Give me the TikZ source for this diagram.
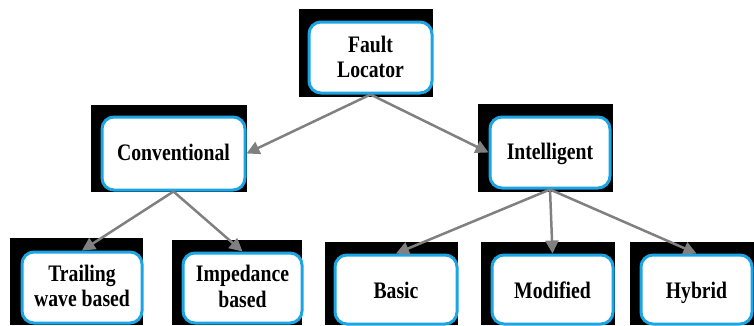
\documentclass[tikz,border=0pt]{standalone}
\usepackage{graphicx}
\usepackage{fontspec}
\setmainfont{Liberation Serif}
\usetikzlibrary{arrows.meta}
\definecolor{boxblue}{RGB}{28,165,228}
\definecolor{arrowgray}{RGB}{128,128,128}
\newcommand\boxtext[2][2pt]{\raisebox{-#1}[\height][\depth]{\scalebox{1}[1.2]{\fontsize{19.7}{21}\selectfont\bfseries\begin{tabular}{@{}c@{}}#2\end{tabular}}}}
\tikzset{
  shadowbox/.style={fill=black, draw=none, inner sep=0pt},
  mainbox/.style={draw=boxblue, line width=3pt, fill=white, rounded corners=12pt, inner sep=0pt, align=center},
  link/.style={draw=arrowgray, line width=2.5pt, -{Triangle[length=13pt,width=13pt]}}
}
\begin{document}
\begin{tikzpicture}[x=1pt,y=-1pt]
\useasboundingbox (0,0) rectangle (754,325);
% black backing rectangles
\path[shadowbox] (299,9) rectangle (433,97);
\path[shadowbox] (91,105) rectangle (247,192);
\path[shadowbox] (478,104) rectangle (613,192);
\path[shadowbox] (10,238) rectangle (143,325);
\path[shadowbox] (172,240) rectangle (302,325);
\path[shadowbox] (325,242) rectangle (458,325);
\path[shadowbox] (481,242) rectangle (615,325);
\path[shadowbox] (630,242) rectangle (754,325);
% boxes
\node[mainbox, minimum width=123pt, minimum height=71pt] (fl) at (370.5,57.5) {\boxtext[2.5pt]{Fault\\Locator}};
\node[mainbox, minimum width=143pt, minimum height=73pt] (conv) at (173.5,153.5) {\boxtext{Conventional}};
\node[mainbox, minimum width=120pt, minimum height=71pt] (intel) at (550,152.5) {\boxtext{Intelligent}};
\node[mainbox, minimum width=120pt, minimum height=71pt] (trail) at (82,287.5) {\boxtext[1.5pt]{Trailing\\wave based}};
\node[mainbox, minimum width=119pt, minimum height=70pt] (imp) at (242.5,288) {\boxtext[1.5pt]{Impedance\\based}};
\node[mainbox, minimum width=122pt, minimum height=69pt] (basic) at (396,289.5) {\boxtext[4pt]{Basic}};
\node[mainbox, minimum width=121pt, minimum height=69pt] (mod) at (552.5,289.5) {\boxtext[4pt]{Modified}};
\node[mainbox, minimum width=111pt, minimum height=69pt] (hyb) at (696.5,289.5) {\boxtext[4pt]{Hybrid}};
% connectors
\draw[link] (fl.south) -- (conv.east);
\draw[link] (fl.south) -- (intel.west);
\draw[link] (conv.south) -- (trail.north);
\draw[link] (conv.south) -- (imp.north);
\draw[link] (intel.south) -- (basic.north);
\draw[link] (intel.south) -- (mod.north);
\draw[link] (intel.south) -- (hyb.north);
\end{tikzpicture}
\end{document}
